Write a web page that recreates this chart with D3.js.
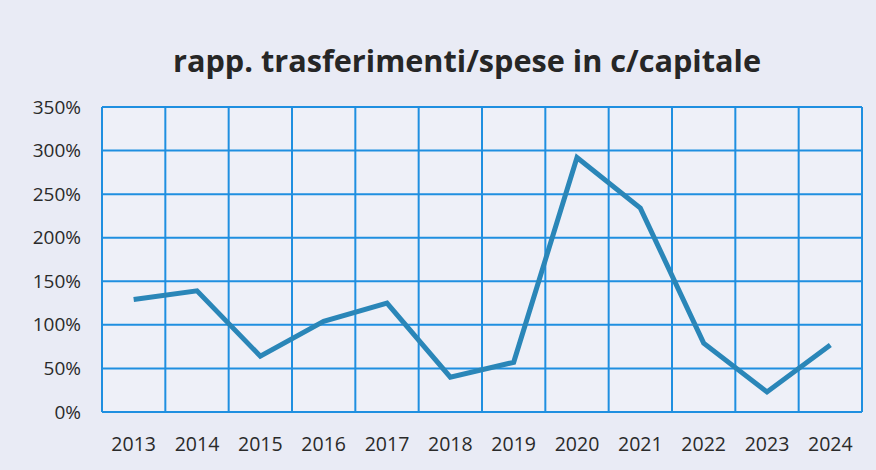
<!DOCTYPE html>
<html><head><meta charset="utf-8">
<script src="https://cdn.jsdelivr.net/npm/d3@7"></script>
<style>
html,body{margin:0;padding:0;background:#e9ebf5;}
svg{display:block;}
</style></head><body>
<svg id="c" width="876" height="470"></svg>
<script>
const title = "rapp. trasferimenti/spese in c/capitale";
const years = ["2013","2014","2015","2016","2017","2018","2019","2020","2021","2022","2023","2024"];
const values = [129, 139, 64, 104, 125, 40, 57, 292, 234, 79, 23, 77];
const yTicks = [0, 50, 100, 150, 200, 250, 300, 350];

const svg = d3.select("#c");
const m = {left:102, right:14, top:107, bottom:58};
const W = 876, H = 470;
const x = d3.scaleBand().domain(years).range([m.left, W - m.right]).padding(0);
const y = d3.scaleLinear().domain([0, 350]).range([H - m.bottom, m.top]);

svg.append("rect").attr("width", W).attr("height", H).attr("fill", "#e9ebf5");
svg.append("rect").attr("x", m.left).attr("y", m.top)
  .attr("width", W - m.left - m.right).attr("height", H - m.top - m.bottom)
  .attr("fill", "#eef0f8");

svg.append("text").attr("x", 467).attr("y", 72).attr("text-anchor", "middle")
  .attr("font-family", "Open Sans, sans-serif").attr("font-weight", "bold")
  .attr("font-size", 30).attr("textLength", 588).attr("lengthAdjust", "spacingAndGlyphs")
  .attr("fill", "#262626").text(title);

const gridColor = "#1f8fe0";
svg.append("g").selectAll("line").data(yTicks).join("line")
  .attr("x1", m.left).attr("x2", W - m.right)
  .attr("y1", d => y(d)).attr("y2", d => y(d))
  .attr("stroke", gridColor).attr("stroke-width", 2);
const xb = years.map(d => x(d)).concat([W - m.right]);
svg.append("g").selectAll("line").data(xb).join("line")
  .attr("x1", d => d).attr("x2", d => d)
  .attr("y1", m.top).attr("y2", H - m.bottom)
  .attr("stroke", gridColor).attr("stroke-width", 2);

const yAxis = d3.axisLeft(y).tickValues(yTicks).tickFormat(d => d + "%").tickSize(0).tickPadding(21);
const gy = svg.append("g").attr("transform", `translate(${m.left},0)`).call(yAxis);
gy.select(".domain").remove();
gy.selectAll("text").attr("font-family", "Open Sans, sans-serif").attr("font-size", 19).attr("fill", "#2a2a2a");

const xAxis = d3.axisBottom(x).tickSize(0).tickPadding(25);
const gx = svg.append("g").attr("transform", `translate(0,${H - m.bottom})`).call(xAxis);
gx.select(".domain").remove();
gx.selectAll("text").attr("font-family", "Open Sans, sans-serif").attr("font-size", 19.5).attr("fill", "#2a2a2a");

const line = d3.line().x((d, i) => x(years[i]) + x.bandwidth() / 2).y(d => y(d));
svg.append("path").datum(values).attr("d", line)
  .attr("fill", "none").attr("stroke", "#2a86b8").attr("stroke-width", 5)
  .attr("stroke-linejoin", "miter").attr("stroke-linecap", "butt");
</script>
</body></html>
